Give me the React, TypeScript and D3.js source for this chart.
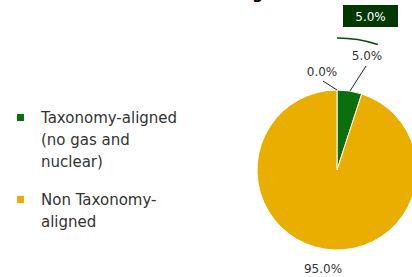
import React from 'react';
import * as d3 from 'd3';

// slices, clockwise from 12 o'clock
const sliceNames = ['Taxonomy-aligned: Fossil gas & nuclear', 'Taxonomy-aligned (no gas and nuclear)', 'Non Taxonomy-aligned'];
const sliceValues = [0.0, 5.0, 95.0];
const sliceColors = ['#0b6e0f', '#0b6e0f', '#e9ae00'];

const legendItems = [
  { lines: ['Taxonomy-aligned', '(no gas and', 'nuclear)'], color: '#0b6e0f' },
  { lines: ['Non Taxonomy-', 'aligned'], color: '#e9ae00' },
];

const totalAligned = 5.0;

const W = 412;
const H = 277;
const cx = 337;
const cy = 170;
const radius = 80;
const font = '"DejaVu Sans", sans-serif';

const App: React.FC = () => {
  const pie = d3.pie<number>().sort(null).value(d => d)(sliceValues);
  const arc = d3.arc<d3.PieArcDatum<number>>().innerRadius(0).outerRadius(radius);
  const fmt = d3.format('.1f');

  // label anchors for the two small slices and the big one
  const labelOffsets = [
    { tx: -15, ty: -94, lx1: 0, ly1: -80, lx2: -14, ly2: -89 },
    { tx: 30, ty: -110, lx1: 13, ly1: -79, lx2: 29, ly2: -104 },
    { tx: -14, ty: 103, lx1: 0, ly1: 0, lx2: 0, ly2: 0 },
  ];

  // bracket arc over the aligned share
  const bracket = d3.arc()({
    innerRadius: 132,
    outerRadius: 132,
    startAngle: 0,
    endAngle: (totalAligned / 100) * Math.PI * 2,
  });

  return (
    <svg width={W} height={H} style={{ position: 'absolute', left: 0, top: 0 }}>
      {/* title sits above the frame, only a descender shows */}
      <text x={263} y={-1} textAnchor="end" fontFamily={font} fontWeight="bold" fontSize={15} fill="#000">
        Investments excluding
      </text>

      {legendItems.map((item, i) => {
        const top = i === 0 ? 123 : 205;
        return (
          <g key={i}>
            <rect x={17} y={top - 9} width={7} height={7} fill={item.color} />
            {item.lines.map((ln, j) => (
              <text key={j} x={41} y={top + j * 22} fontFamily={font} fontSize={15} fill="#333">
                {ln}
              </text>
            ))}
          </g>
        );
      })}

      <g transform={`translate(${cx},${cy})`}>
        {pie.map((d, i) => (
          <path key={sliceNames[i]} d={arc(d) || ''} fill={sliceColors[i]} stroke="#fff" strokeWidth={1} />
        ))}
        {pie.map((d, i) => {
          const o = labelOffsets[i];
          return (
            <g key={'l' + i}>
              {i < 2 && <line x1={o.lx1} y1={o.ly1} x2={o.lx2} y2={o.ly2} stroke="#222" strokeWidth={1} />}
              <text x={o.tx} y={o.ty} textAnchor="middle" fontFamily={font} fontSize={12} fill="#333">
                {fmt(d.data)}%
              </text>
            </g>
          );
        })}
        <path d={bracket || ''} fill="none" stroke="#0a4a0a" strokeWidth={1.5} />
      </g>

      <rect x={343} y={5} width={55} height={22} fill="#003800" />
      <text x={370.5} y={20.5} textAnchor="middle" fontFamily={font} fontSize={12} fill="#fff">
        {fmt(totalAligned)}%
      </text>
    </svg>
  );
};

export default App;
